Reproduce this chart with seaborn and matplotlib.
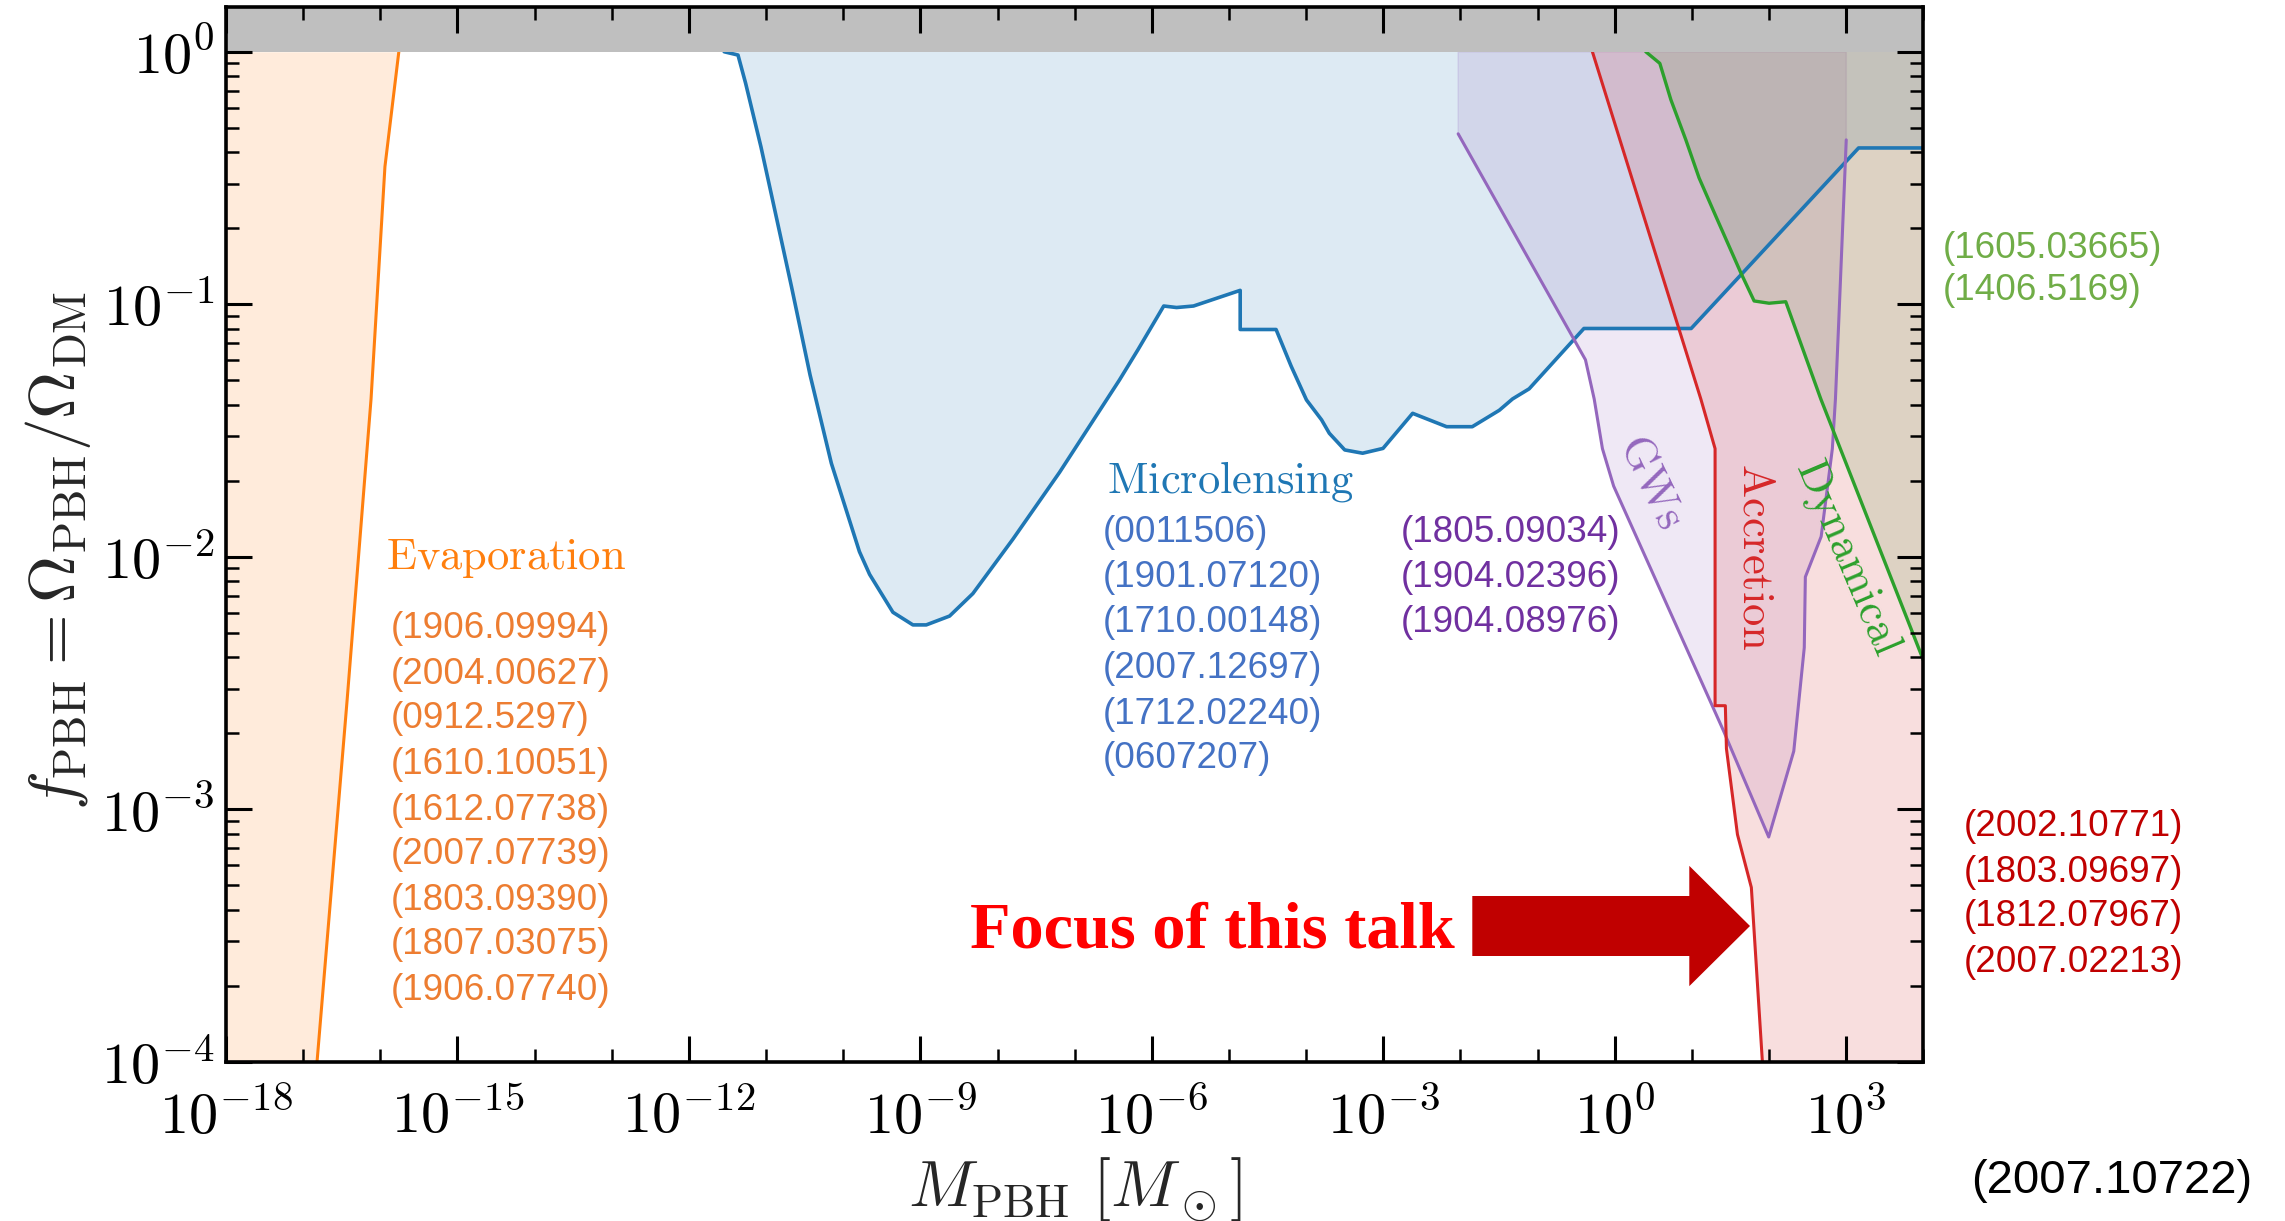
import numpy as np
import matplotlib
matplotlib.use("Agg")
import matplotlib.pyplot as plt
import matplotlib.ticker as mticker
from matplotlib.patches import FancyArrow
import seaborn as sns

# ---------------- data (log10 M_PBH [M_sun], log10 f_PBH) ----------------
evap_logM = [-16.82, -16.43, -16.12, -15.94, -15.76]
evap_logf = [-4.0, -2.567, -1.375, -0.455, 0.0]

micro_logM = [-11.543, -11.364, -11.265, -11.067, -10.935, -10.671, -10.43, -10.154,
              -9.79, -9.658, -9.356, -9.097, -8.924, -8.622, -8.32, -7.80, -7.197,
              -6.42, -6.18, -5.846, -5.68, -5.46, -4.855, -4.855, -4.39, -4.195,
              -3.996, -3.80, -3.70, -3.50, -3.268, -3.004, -2.62, -2.18, -1.847,
              -1.497, -1.325, -1.11, -0.40, 0.99, 3.16, 4.0]
micro_logf = [0.0, -0.013, -0.125, -0.376, -0.56, -0.93, -1.28, -1.63,
              -1.98, -2.07, -2.22, -2.27, -2.27, -2.235, -2.146, -1.93, -1.666,
              -1.30, -1.18, -1.007, -1.013, -1.007, -0.945, -1.10, -1.10, -1.245,
              -1.379, -1.458, -1.511, -1.577, -1.59, -1.571, -1.432, -1.485, -1.485,
              -1.42, -1.375, -1.335, -1.096, -1.096, -0.381, -0.381]

gw_logM = [-2.03, -0.38, -0.267, -0.16, -0.015, 1.41, 1.995, 2.32, 2.456, 2.47,
           2.675, 2.82, 2.86, 2.906, 3.0]
gw_logf = [-0.325, -1.22, -1.375, -1.572, -1.72, -2.69, -3.11, -2.77, -2.36, -2.08,
           -1.92, -1.572, -1.375, -1.046, -0.349]

acc_logM = [-0.29, 1.115, 1.30, 1.30, 1.433, 1.447, 1.59, 1.77, 1.913]
acc_logf = [0.0, -1.375, -1.572, -2.59, -2.59, -2.76, -3.10, -3.31, -4.0]

dyn_logM = [0.402, 0.584, 0.727, 0.921, 1.093, 1.309, 1.633, 1.806, 2.0, 2.216, 2.67, 4.0]
dyn_logf = [0.0, -0.046, -0.19, -0.349, -0.5, -0.651, -0.875, -0.987, -0.996, -0.99,
            -1.375, -2.41]

x_major_exp = [-18, -15, -12, -9, -6, -3, 0, 3]
y_major_exp = [-4, -3, -2, -1, 0]

evap_refs = ["(1906.09994)", "(2004.00627)", "(0912.5297)", "(1610.10051)", "(1612.07738)",
             "(2007.07739)", "(1803.09390)", "(1807.03075)", "(1906.07740)"]
micro_refs = ["(0011506)", "(1901.07120)", "(1710.00148)", "(2007.12697)", "(1712.02240)",
              "(0607207)"]
gw_refs = ["(1805.09034)", "(1904.02396)", "(1904.08976)"]
dyn_refs = ["(1605.03665)", "(1406.5169)"]
acc_refs = ["(2002.10771)", "(1803.09697)", "(1812.07967)", "(2007.02213)"]
source_ref = "(2007.10722)"

# ---------------- style ----------------
sns.set_theme(style="ticks")
plt.rcParams.update({
    "mathtext.fontset": "cm",
    "font.family": ["DejaVu Serif"],
    "axes.edgecolor": "black",
    "xtick.color": "black",
    "ytick.color": "black",
    "axes.linewidth": 2.6,
    "figure.facecolor": "white",
    "axes.facecolor": "white",
})

C_BLUE, C_ORANGE, C_GREEN, C_RED, C_PURPLE = "#1f77b4", "#ff7f0e", "#2ca02c", "#d62728", "#9467bd"

W, H = 2285, 1221
fig = plt.figure(figsize=(W / 100, H / 100), dpi=100)
AX_L, AX_R, AX_T, AX_B = 226, 1923.4, 7.3, 1061.7
ax = fig.add_axes([AX_L / W, 1 - AX_B / H, (AX_R - AX_L) / W, (AX_B - AX_T) / H])
ax.set_xscale("log")
ax.set_yscale("log")
XMIN, XMAX, YMIN, YMAX = 1e-18, 1e4, 1e-4, 1.5


def P(a):
    return 10.0 ** np.asarray(a, dtype=float)


# ---------------- fills ----------------
ax.fill_betweenx(P(evap_logf), XMIN, P(evap_logM), color=C_ORANGE, alpha=0.15, lw=0, zorder=1)
ax.fill(P(micro_logM + [micro_logM[-1]]), P(micro_logf + [0.0]), color=C_BLUE, alpha=0.15,
        lw=0, zorder=1)
ax.fill(P(gw_logM + [gw_logM[-1], gw_logM[0]]), P(gw_logf + [0.0, 0.0]),
        facecolor=C_PURPLE, alpha=0.15, edgecolor=C_PURPLE, lw=1.2, zorder=1)
ax.fill(P(dyn_logM + [dyn_logM[-1]]), P(dyn_logf + [0.0]), color=C_GREEN, alpha=0.15,
        lw=0, zorder=1)
ax.fill(P(acc_logM + [4.0, 4.0]), P(acc_logf + [-4.0, 0.0]), color=C_RED, alpha=0.15,
        lw=0, zorder=1)

# ---------------- curves ----------------
for lm, lf, c, w in [(evap_logM, evap_logf, C_ORANGE, 2.2),
                     (micro_logM, micro_logf, C_BLUE, 2.6),
                     (gw_logM, gw_logf, C_PURPLE, 2.2),
                     (dyn_logM, dyn_logf, C_GREEN, 2.4),
                     (acc_logM, acc_logf, C_RED, 2.2)]:
    sns.lineplot(x=P(lm), y=P(lf), sort=False, estimator=None, color=c, lw=w, ax=ax, zorder=2)

# grey excluded band f > 1
ax.axhspan(1.0, 10.0, color="#bfbfbf", lw=0, zorder=2.3)

ax.set_xlim(XMIN, XMAX)
ax.set_ylim(YMIN, YMAX)
ax.set_axisbelow(False)

# ---------------- ticks ----------------
ax.xaxis.set_major_locator(mticker.FixedLocator(P(x_major_exp)))
ax.xaxis.set_minor_locator(mticker.FixedLocator(P([k for k in range(-18, 5) if k % 3])))
ax.yaxis.set_major_locator(mticker.FixedLocator(P(y_major_exp)))
ax.yaxis.set_minor_locator(mticker.LogLocator(base=10, subs=np.arange(2, 10), numticks=30))
fmt = mticker.FuncFormatter(lambda v, p: r"$10^{%d}$" % int(round(np.log10(v))))
ax.xaxis.set_major_formatter(fmt)
ax.yaxis.set_major_formatter(fmt)
ax.xaxis.set_minor_formatter(mticker.NullFormatter())
ax.yaxis.set_minor_formatter(mticker.NullFormatter())
ax.tick_params(which="both", direction="in", top=True, right=True)
ax.tick_params(which="major", length=18.7, width=2.2, labelsize=42)
ax.tick_params(which="minor", length=9.4, width=1.8)
ax.tick_params(axis="x", which="major", pad=20)
ax.tick_params(axis="y", which="major", pad=8)
for s in ax.spines.values():
    s.set_linewidth(2.6)
    s.set_zorder(2.6)

# ---------------- axis labels ----------------
ax.set_xlabel(r"$M_{\rm PBH}\ [M_\odot]$", fontsize=47)
ax.set_ylabel(r"$f_{\rm PBH} = \Omega_{\rm PBH}/\Omega_{\rm DM}$", fontsize=47)
axw, axh = AX_R - AX_L, AX_B - AX_T
ax.xaxis.set_label_coords((1075 - AX_L) / axw, (AX_B - 1190) / axh)
ax.yaxis.set_label_coords((58 - AX_L) / axw, (AX_B - 550) / axh)
ax.xaxis.label.set_va("center")
ax.yaxis.label.set_va("center")
ax.yaxis.label.set_rotation_mode("anchor")


def fx(px):
    return px / W


def fy(py):
    return 1 - py / H


# ---------------- region labels ----------------
fig.text(fx(386), fy(569), r"$\mathrm{Evaporation}$", color=C_ORANGE, fontsize=32,
         ha="left", va="baseline")
fig.text(fx(1107), fy(493), r"$\mathrm{Microlensing}$", color=C_BLUE, fontsize=32,
         ha="left", va="baseline")
fig.text(fx(1652), fy(482), r"$\mathrm{GWs}$", color=C_PURPLE, fontsize=32,
         ha="center", va="center", rotation=-64, rotation_mode="anchor")
fig.text(fx(1756), fy(557), r"$\mathrm{Accretion}$", color=C_RED, fontsize=32,
         ha="center", va="center", rotation=-90, rotation_mode="anchor")
fig.text(fx(1848), fy(557), r"$\mathrm{Dynamical}$", color=C_GREEN, fontsize=32,
         ha="center", va="center", rotation=-67, rotation_mode="anchor")

# ---------------- references ----------------
SANS = ["Liberation Sans", "DejaVu Sans"]


def refs(lst, x, ys, color, size=26.6):
    for s, y in zip(lst, ys):
        fig.text(fx(x), fy(y), s, color=color, fontsize=size, family=SANS,
                 ha="left", va="center")


refs(evap_refs, 391, [629, 674, 719, 765, 810, 855, 900, 945, 990], "#ED7D31")
refs(micro_refs, 1103, [533, 577, 622, 668, 714, 758], "#4472C4")
refs(gw_refs, 1401, [533, 577, 622], "#7030A0")
refs(dyn_refs, 1943, [248, 290], "#70AD47")
refs(acc_refs, 1964, [827, 872, 917, 962], "#C00000")
refs([source_ref], 1971, [1181], "black", size=34)

# ---------------- "Focus of this talk" arrow ----------------
fig.text(fx(970), fy(948), "Focus of this talk", color="#ff0000", fontsize=47.7,
         family=["Liberation Serif", "DejaVu Serif"], fontweight="bold",
         ha="left", va="baseline")
tail, tip, yc, body_h, head_h, head_len = 1472.3, 1750.0, 926.0, 60.0, 120.3, 60.7
ax.add_patch(FancyArrow((tail - AX_L) / axw, (AX_B - yc) / axh, (tip - tail) / axw, 0.0,
                        width=body_h / axh, head_width=head_h / axh,
                        head_length=head_len / axw, length_includes_head=True,
                        transform=ax.transAxes, color="#c00000", lw=0, zorder=3))

fig.savefig("out.png", dpi=100, facecolor="white")
